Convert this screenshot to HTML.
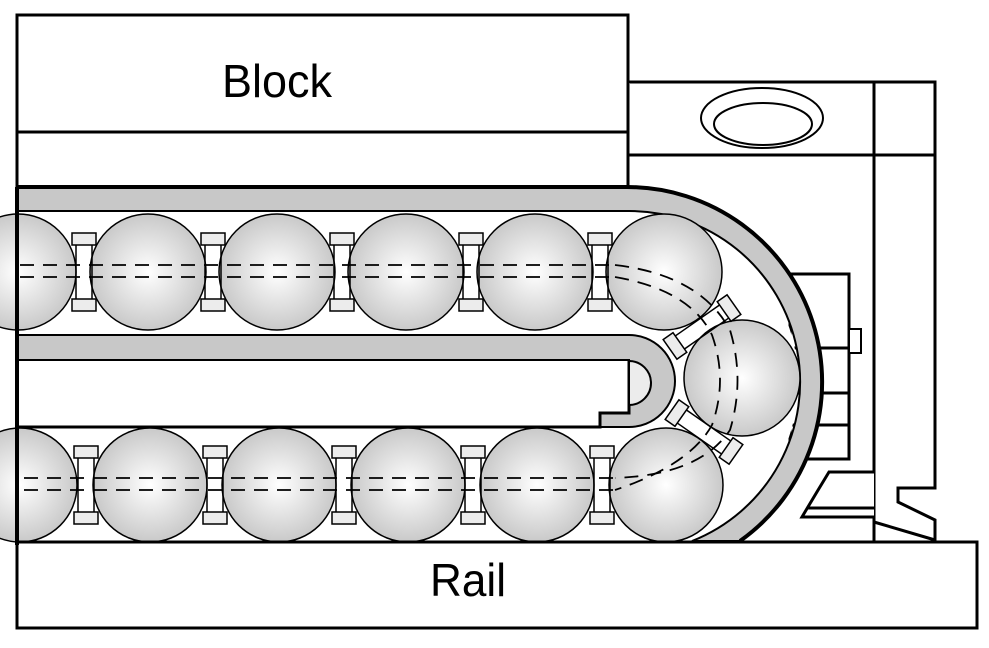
<!DOCTYPE html>
<html><head><meta charset="utf-8"><style>html,body{margin:0;padding:0;background:#fff}svg{display:block}</style></head>
<body>
<svg width="989" height="648" viewBox="0 0 989 648" xmlns="http://www.w3.org/2000/svg">
<defs>
<radialGradient id="b" cx="0.5" cy="0.5" r="0.5">
<stop offset="0" stop-color="#ffffff"/><stop offset="1" stop-color="#c9c9c9"/>
</radialGradient>
<g id="sp"><rect x="-12" y="-39" width="24" height="12" fill="#ececec" stroke="#000" stroke-width="1.5"/><rect x="-12" y="27" width="24" height="12" fill="#ececec" stroke="#000" stroke-width="1.5"/><line x1="-8" y1="-27" x2="-8" y2="27" stroke="#000" stroke-width="1.5"/><line x1="8" y1="-27" x2="8" y2="27" stroke="#000" stroke-width="1.5"/></g>
</defs>
<g fill="none" stroke="#000" stroke-width="3">
<rect x="17" y="15" width="611" height="172" fill="#fff"/>
<line x1="17" y1="132" x2="628" y2="132"/>
<path d="M628 82 H935 V488 H898 V502 L935 520 V541" fill="#fff"/>
<line x1="628" y1="155" x2="935" y2="155"/>
<line x1="874" y1="82" x2="874" y2="541"/>
<line x1="874" y1="522" x2="935" y2="540"/>
<line x1="628" y1="155" x2="628" y2="190"/>
</g>
<ellipse cx="762" cy="118" rx="61" ry="30" fill="#fff" stroke="#000" stroke-width="2"/>
<ellipse cx="763" cy="124" rx="49" ry="21" fill="#fff" stroke="#000" stroke-width="2"/>
<g fill="#fff" stroke="#000" stroke-width="3">
<rect x="790" y="274" width="59" height="185"/>
<rect x="849" y="329" width="12" height="24" stroke-width="2"/>
<line x1="790" y1="348" x2="849" y2="348"/>
<line x1="790" y1="393" x2="849" y2="393"/>
<line x1="790" y1="425" x2="849" y2="425"/>
<path d="M874 472 H829 Q815 495 802 517 H874"/>
<line x1="808" y1="508" x2="874" y2="508"/>
</g>
<!-- white interior of arc -->
<path d="M627 211 A171 171 0 0 1 690 541 H600 V211 Z" fill="#fff"/>
<!-- outer gray race with arc -->
<path d="M17 187 H627 A195 195 0 0 1 740 541 H692 A171 171 0 0 0 627 211 H17 Z" fill="#c8c8c8" stroke="#000" stroke-width="2"/>
<path d="M17 187 H627 A195 195 0 0 1 740 541" fill="none" stroke="#000" stroke-width="4"/>
<!-- middle U -->
<path d="M17 335 H629 A46 46 0 0 1 629 427 H600 V413 H629 V360 H17 Z" fill="#c8c8c8" stroke="#000" stroke-width="2"/>
<path d="M629 360 V413 H600 V427 H17" fill="none" stroke="#000" stroke-width="3"/>
<path d="M629 361 A22 22 0 0 1 629 405 Z" fill="#ececec" stroke="#000" stroke-width="2"/>
<g stroke="#000" stroke-width="1.5" fill="url(#b)">
<circle cx="18" cy="272" r="58"/><circle cx="148" cy="272" r="58"/><circle cx="277" cy="272" r="58"/><circle cx="406" cy="272" r="58"/><circle cx="535" cy="272" r="58"/><circle cx="664" cy="272" r="58"/>
<circle cx="20" cy="485" r="57"/><circle cx="150" cy="485" r="57"/><circle cx="279" cy="485" r="57"/><circle cx="408" cy="485" r="57"/><circle cx="537" cy="485" r="57"/><circle cx="666" cy="485" r="57"/>
<circle cx="742" cy="378" r="58"/>
</g>
<use href="#sp" x="84" y="272"/><use href="#sp" x="213" y="272"/><use href="#sp" x="342" y="272"/><use href="#sp" x="471" y="272"/><use href="#sp" x="600" y="272"/>
<use href="#sp" x="86" y="485"/><use href="#sp" x="215" y="485"/><use href="#sp" x="344" y="485"/><use href="#sp" x="473" y="485"/><use href="#sp" x="602" y="485"/>
<g transform="translate(702,327) rotate(55)"><use href="#sp"/></g>
<g transform="translate(704,432) rotate(-55)"><use href="#sp"/></g>
<g fill="none" stroke="#000" stroke-width="1.8" stroke-dasharray="14,9">
<line x1="20" y1="265" x2="615" y2="265"/><line x1="20" y1="277" x2="615" y2="277"/>
<line x1="24" y1="478" x2="615" y2="478"/><line x1="24" y1="490" x2="615" y2="490"/>
<path d="M615 265 Q700 275 730 330 Q745 380 730 430 Q700 475 615 478"/>
<path d="M615 277 Q690 290 712 335 Q728 380 712 425 Q690 465 615 490"/>
</g>
<rect x="17" y="542" width="960" height="86" fill="#fff" stroke="#000" stroke-width="3"/>
<line x1="17" y1="187" x2="17" y2="545" stroke="#000" stroke-width="4"/>
<text x="277" y="97" font-family="Liberation Sans, sans-serif" font-size="46" text-anchor="middle" textLength="110" lengthAdjust="spacingAndGlyphs">Block</text>
<text x="468" y="596" font-family="Liberation Sans, sans-serif" font-size="46" text-anchor="middle" textLength="76" lengthAdjust="spacingAndGlyphs">Rail</text>
</svg>
</body></html>
